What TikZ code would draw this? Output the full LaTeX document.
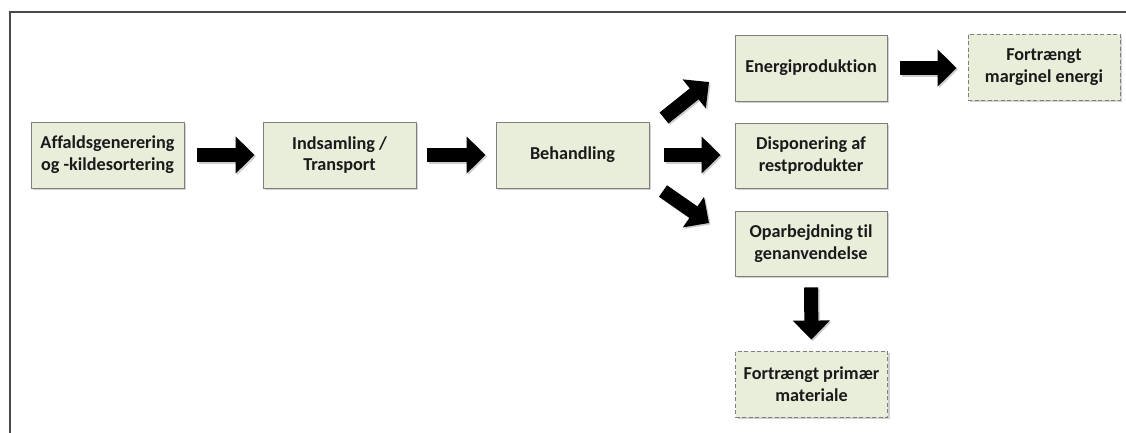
\documentclass[tikz,border=0pt]{standalone}
\usepackage{fontspec}
\setmainfont{Carlito}[Ligatures=NoCommon]
\usetikzlibrary{arrows.meta,shadows}
\definecolor{boxfill}{HTML}{E9EEDA}
\definecolor{boxline}{HTML}{7F7F7F}
\definecolor{txt}{HTML}{1A1A1A}
\definecolor{frame}{HTML}{4A4A4A}
\tikzset{
  x=1pt,y=-1pt,
  procbox/.style={draw=boxline, line width=0.9pt, fill=boxfill,
    minimum width=152pt, minimum height=66pt, inner sep=0pt,
    align=center, text=txt,
    font=\fontsize{18.2}{21.8}\selectfont\bfseries,
    drop shadow={shadow xshift=2pt, shadow yshift=-2pt, fill=black!18, opacity=1}},
  dashbox/.style={procbox, dash pattern=on 4pt off 2.5pt},
  blockarrow/.style={draw=black, line width=14pt,
    -{Triangle[length=19pt,width=36pt]},
    preaction={draw=black!20, line width=14pt, transform canvas={shift={(1.5pt,-1.5pt)}}, -{Triangle[length=19pt,width=36pt]}}}
}
\begin{document}
\begin{tikzpicture}
\useasboundingbox (0,0) rectangle (1126,432);
\fill[white] (0,0) rectangle (1126,432);
\draw[frame, line width=2.4pt] (10,440) -- (10,12) -- (1140,12);

\node[procbox, minimum width=153pt] (gen) at (107.5,155) {Affaldsgenerering\\og -kildesortering};
\node[procbox, minimum width=153pt] (ind) at (339.5,155) {Indsamling /\\Transport};
\node[procbox, minimum width=153pt] (beh) at (572.5,155) {Behandling};
\node[procbox] (ene) at (811,68) {Energiproduktion};
\node[procbox, minimum height=65pt] (dis) at (811,155.5) {Disponering af\\restprodukter};
\node[procbox, minimum height=65pt] (opa) at (811,243.5) {Oparbejdning til\\genanvendelse};
\node[dashbox] (prim) at (811.5,384) {Fortrængt primær\\materiale};
\node[dashbox] (marg) at (1044,67) {Fortrængt\\marginel energi};

\coordinate (upS) at (664,118);
\coordinate (upE) at (709,82);
\coordinate (dnS) at (663,191);
\coordinate (dnE) at (709,223);

\draw[blockarrow, shorten <=13pt, shorten >=8pt] (gen.east) -- (ind.west);
\draw[blockarrow, shorten <=11pt, shorten >=10pt] (ind.east) -- (beh.west);
\draw[blockarrow, shorten <=15pt, shorten >=14pt] (beh.east) -- (beh.east -| dis.west);
\draw[blockarrow] (upS) -- (upE);
\draw[blockarrow] (dnS) -- (dnE);
\draw[blockarrow, shorten <=13pt, shorten >=11pt] (ene.east) -- (marg.west |- ene.east);
\draw[blockarrow, shorten <=11pt, shorten >=11pt] (opa.south) -- (prim.north);
\end{tikzpicture}
\end{document}
